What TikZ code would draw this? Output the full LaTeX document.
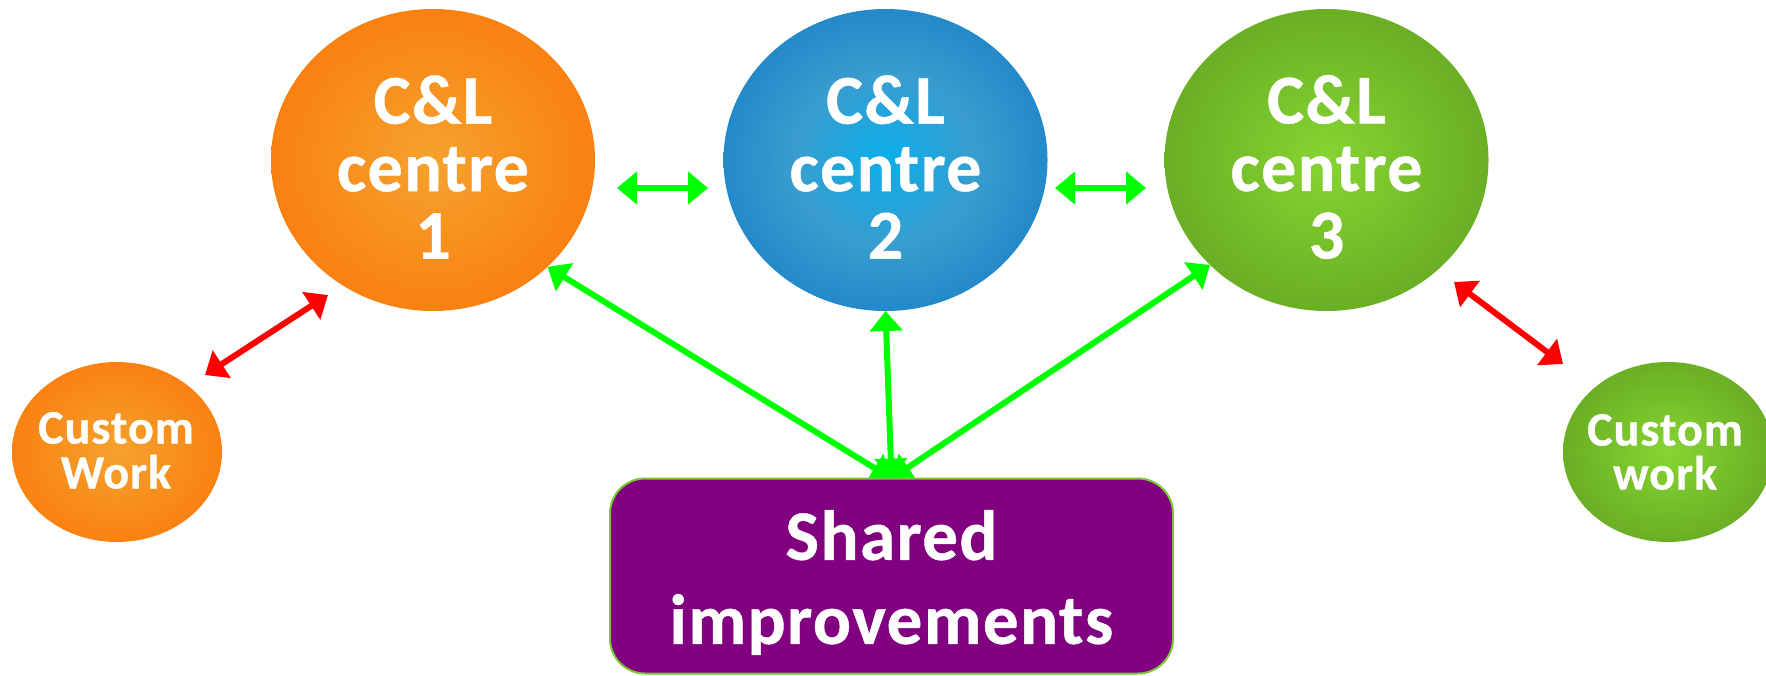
\documentclass[tikz,border=0pt]{standalone}
\usepackage{fontspec}
\setmainfont{Carlito}[LetterSpace=2.0, BoldFeatures={FakeBold=0.6}]
\usetikzlibrary{arrows.meta,calc,shapes.geometric}
\definecolor{org1}{HTML}{F5A22E}
\definecolor{org2}{HTML}{F98112}
\definecolor{grn1}{HTML}{86D532}
\definecolor{grn2}{HTML}{6AAF24}
\definecolor{blu1}{HTML}{0AAEEA}
\definecolor{blu2}{HTML}{3A9DCE}
\definecolor{blu3}{HTML}{2389C9}
\definecolor{purp}{HTML}{800080}
\definecolor{boxline}{HTML}{7CC631}
\definecolor{arrg}{HTML}{00FF00}
\definecolor{arrr}{HTML}{FF0000}
\pgfdeclareradialshading{orgball}{\pgfpoint{0bp}{0bp}}{color(0bp)=(org1); color(25bp)=(org2); color(50bp)=(org2)}
\pgfdeclareradialshading{grnball}{\pgfpoint{0bp}{0bp}}{color(0bp)=(grn1); color(25bp)=(grn2); color(50bp)=(grn2)}
\pgfdeclareradialshading{bluball}{\pgfpoint{0bp}{0bp}}{color(0bp)=(blu1); color(14bp)=(blu2); color(25bp)=(blu3); color(50bp)=(blu3)}
\pgfdeclarelayer{bg}
\pgfsetlayers{bg,main}
\tikzset{
  centre/.style={ellipse, shade, draw=none, inner sep=0pt, outer sep=0pt, minimum width=324pt, minimum height=302pt},
  custom/.style={ellipse, shade, draw=none, inner sep=0pt, outer sep=0pt, minimum width=210pt, minimum height=180pt},
  lbl/.style={text=white, font=\bfseries\fontsize{70}{67.5}\selectfont, align=center, inner sep=0pt},
  smalllbl/.style={text=white, font=\bfseries\fontsize{48}{45}\selectfont, align=center, inner sep=0pt},
  boxlbl/.style={text=white, font=\bfseries\fontsize{71}{84}\selectfont, align=center, inner sep=0pt},
  sharedbox/.style={draw=boxline, line width=2pt, fill=purp, rounded corners=35pt, minimum width=563pt, minimum height=195pt, inner sep=0pt, outer sep=0pt},
  conn/.style={line width=6pt, {Triangle[length=20pt,width=32pt]}-{Triangle[length=20pt,width=32pt]}},
  gconn/.style={conn, draw=arrg},
  rconn/.style={conn, draw=arrr}
}
\begin{document}
\begin{tikzpicture}[x=1pt,y=-1pt]
\useasboundingbox (0,0) rectangle (1766,675);
\clip (0,0) rectangle (1766,675);
\begin{pgfonlayer}{bg}
\fill[white] (0,0) rectangle (1766,675);
\end{pgfonlayer}
% centres
\node[centre, shading=orgball] (c1) at (433,160) {};
\node[centre, shading=bluball] (c2) at (885.5,160) {};
\node[centre, shading=grnball] (c3) at (1326.5,160) {};
\node[lbl] (t1) at ($(c1.center)+(0,7)$) {C\&L\\centre\\1};
\node[lbl] (t2) at ($(c2.center)+(0,7)$) {C\&L\\centre\\2};
\node[lbl] (t3) at ($(c3.center)+(0,7)$) {C\&L\\centre\\3};
% custom work
\node[custom, shading=orgball] (w1) at (117,452) {};
\node[custom, shading=grnball] (w2) at (1668,452) {};
\node[smalllbl] (tw1) at ($(w1.center)+(-1,-1.5)$) {Custom\\Work};
\node[smalllbl, font=\bfseries\fontsize{48}{44}\selectfont] (tw2) at ($(w2.center)+(-3,0)$) {Custom\\work};
% shared improvements
\node[sharedbox] (sb) at (891.5,576) {};
\node[boxlbl] (sbt) at ($(sb.center)+(0,6.5)$) {Shared\\improvements};
% connectors
\begin{pgfonlayer}{bg}
\draw[gconn] ($(c1.center)+(184,28)$) -- ($(c2.center)+(-177.5,28)$);
\draw[gconn] ($(c2.center)+(169.5,28)$) -- ($(c3.center)+(-180.5,28)$);
\draw[rconn] ($(w1.center)+(88,-77)$) -- ($(c1.center)+(-105,135)$);
\draw[rconn] ($(c3.center)+(127.5,122)$) -- ($(w2.center)+(-105,-88)$);
\draw[gconn] (sb.north) -- (c1.-43);
\draw[gconn] (sb.north) -- (c2.south);
\draw[gconn] (sb.north) -- (c3.-138);
\end{pgfonlayer}
\end{tikzpicture}
\end{document}
